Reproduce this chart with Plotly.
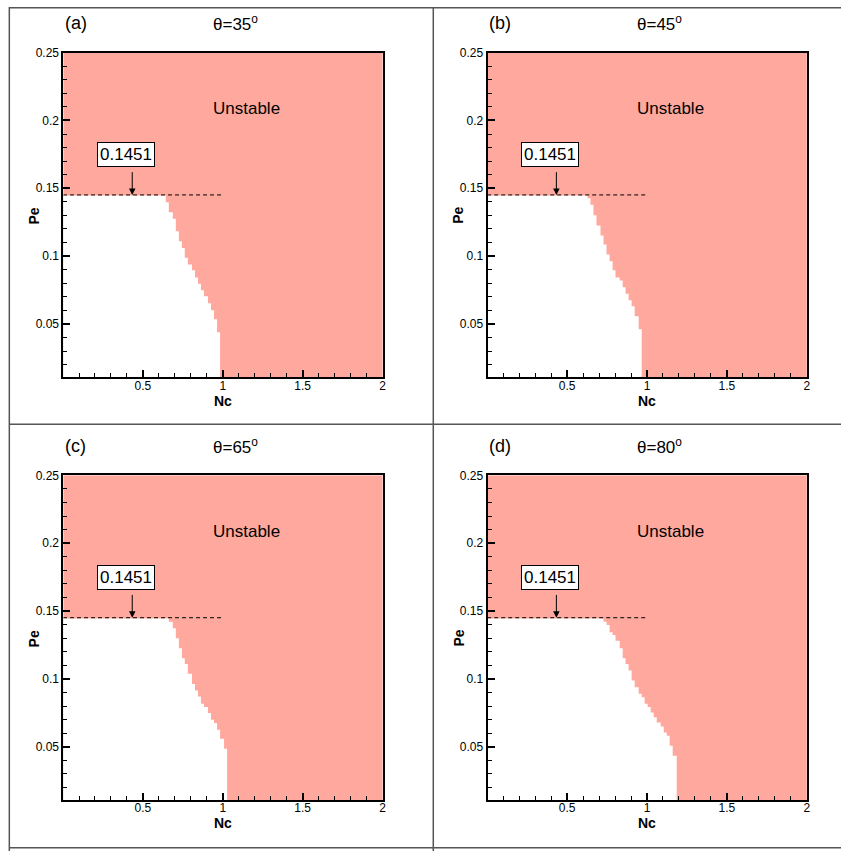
import plotly.graph_objects as go

# ---------------- data ----------------
panel_labels = ["(a)", "(b)", "(c)", "(d)"]
angles = [35, 45, 65, 80]
pe_critical = 0.1451

# Pe edges of the stepped stability boundary (top -> bottom) and Nc of each step
pe_edges_a = [0.1446, 0.1397, 0.1324, 0.1275, 0.1184, 0.1110, 0.1059, 0.0988, 0.0939, 0.0895,
              0.0843, 0.0797, 0.0748, 0.0704, 0.0652, 0.0601, 0.0535, 0.0439, 0.0100]
nc_steps_a = [0.643, 0.662, 0.687, 0.706, 0.725, 0.744, 0.762, 0.781, 0.807, 0.826,
              0.845, 0.863, 0.882, 0.907, 0.926, 0.945, 0.964, 0.983]

pe_edges_b = [0.1446, 0.1427, 0.1378, 0.1302, 0.1226, 0.1152, 0.1086, 0.1012, 0.0963, 0.0895,
              0.0843, 0.0821, 0.0770, 0.0723, 0.0674, 0.0630, 0.0557, 0.0461, 0.0100]
nc_steps_b = [0.628, 0.646, 0.665, 0.684, 0.709, 0.728, 0.747, 0.766, 0.785, 0.803,
              0.829, 0.848, 0.866, 0.885, 0.904, 0.923, 0.948, 0.967]

pe_edges_c = [0.1446, 0.1422, 0.1373, 0.1299, 0.1226, 0.1152, 0.1110, 0.1037, 0.0963, 0.0914,
              0.0870, 0.0816, 0.0792, 0.0748, 0.0699, 0.0674, 0.0625, 0.0559, 0.0485, 0.0100]
nc_steps_c = [0.662, 0.687, 0.706, 0.725, 0.744, 0.762, 0.781, 0.807, 0.826, 0.845,
              0.863, 0.882, 0.907, 0.926, 0.945, 0.964, 0.983, 1.008, 1.027]

pe_edges_d = [0.1446, 0.1422, 0.1397, 0.1343, 0.1324, 0.1282, 0.1226, 0.1152, 0.1110, 0.1061,
              0.0988, 0.0939, 0.0890, 0.0865, 0.0816, 0.0792, 0.0752, 0.0718, 0.0679, 0.0649,
              0.0605, 0.0581, 0.0507, 0.0434, 0.0100]
nc_steps_d = [0.728, 0.747, 0.766, 0.785, 0.803, 0.829, 0.848, 0.866, 0.885, 0.904,
              0.923, 0.948, 0.967, 0.985, 1.004, 1.023, 1.042, 1.061, 1.086, 1.105,
              1.124, 1.142, 1.161, 1.186]

x_tickvals = [0.5, 1, 1.5, 2]
y_tickvals = [0.05, 0.1, 0.15, 0.2, 0.25]

panels = [(pe_edges_a, nc_steps_a), (pe_edges_b, nc_steps_b),
          (pe_edges_c, nc_steps_c), (pe_edges_d, nc_steps_d)]

# ---------------- layout geometry ----------------
W, H = 845, 851
UNSTABLE = "#FFA89D"
FONT = "Liberation Sans, Arial, Helvetica, sans-serif"

# the photographed page appears slightly scaled / shifted; map target pixels -> paper
SC, OFFY = 0.993, 6.0


def PX(x):
    return (x / SC) / W


def PY(y):
    return 1 - ((y - OFFY) / SC) / H


COLDX = 423.2
ROWDY = 423.3

xdoms = [[PX(63.3), PX(381.7)], [PX(63.3 + COLDX), PX(381.7 + COLDX)]]
ydoms = [[PY(376.7), PY(51.7)], [PY(376.7 + ROWDY), PY(51.7 + ROWDY)]]

fig = go.Figure()

for i, (edges, ncs) in enumerate(panels):
    r, c = divmod(i, 2)
    n = i + 1
    xa = "x" if n == 1 else f"x{n}"
    ya = "y" if n == 1 else f"y{n}"
    # stable (white) polygon built from the step data
    px = [0.0]
    py = [edges[0]]
    for k, nc in enumerate(ncs):
        px += [nc, nc]
        py += [edges[k], edges[k + 1]]
    px += [0.0, 0.0]
    py += [edges[-1], edges[0]]
    fig.add_trace(go.Scatter(x=px, y=py, mode="lines", fill="toself",
                             fillcolor="white", line=dict(width=0, color="white"),
                             hoverinfo="skip", showlegend=False, xaxis=xa, yaxis=ya))
    # dashed critical line
    fig.add_trace(go.Scatter(x=[0.0, 1.0], y=[pe_critical, pe_critical], mode="lines",
                             line=dict(color="black", width=1, dash="4px,3px"),
                             hoverinfo="skip", showlegend=False, xaxis=xa, yaxis=ya))

    axkey_x = "xaxis" if n == 1 else f"xaxis{n}"
    axkey_y = "yaxis" if n == 1 else f"yaxis{n}"
    fig.layout[axkey_x] = dict(
        domain=xdoms[c], range=[0.0025, 2], anchor=ya,
        tickmode="array", tickvals=x_tickvals, ticktext=["0.5", "1", "1.5", "2"],
        ticks="inside", ticklen=7, tickwidth=1.5, tickcolor="black",
        ticklabelstandoff=-4,
        minor=dict(tickmode="linear", tick0=0, dtick=0.1, ticks="inside",
                   ticklen=4, tickwidth=1, tickcolor="black"),
        showline=True, linecolor="black", linewidth=2, mirror=True,
        showgrid=False, zeroline=False, fixedrange=True,
        tickfont=dict(family=FONT, size=12, color="black"))
    fig.layout[axkey_y] = dict(
        domain=ydoms[r], range=[0.0107, 0.25], anchor=xa,
        tickmode="array", tickvals=y_tickvals,
        ticktext=["0.05", "0.1", "0.15", "0.2", "0.25"],
        ticks="inside", ticklen=7, tickwidth=1.5, tickcolor="black",
        minor=dict(tickmode="linear", tick0=0, dtick=0.01, ticks="inside",
                   ticklen=4, tickwidth=1, tickcolor="black"),
        showline=True, linecolor="black", linewidth=2, mirror=True,
        showgrid=False, zeroline=False, fixedrange=True,
        tickfont=dict(family=FONT, size=12, color="black"))

    # texts (data coords)
    fig.add_annotation(x=1.15, y=0.209, xref=xa, yref=ya, text="Unstable",
                       showarrow=False, font=dict(family=FONT, size=17, color="black"))
    fig.add_annotation(x=0.394, y=0.1748, xref=xa, yref=ya, text="0.1451",
                       showarrow=False, bgcolor="white", bordercolor="black",
                       borderwidth=1, borderpad=2,
                       font=dict(family=FONT, size=17, color="black"))
    fig.add_annotation(x=0.433, y=pe_critical, xref=xa, yref=ya,
                       ax=0.433, ay=0.163, axref=xa, ayref=ya, text="",
                       showarrow=True, arrowhead=2, arrowsize=1.3, arrowwidth=1,
                       arrowcolor="black")

    # paper-coord texts (target pixel positions)
    dx, dy = c * COLDX, r * ROWDY
    fig.add_annotation(x=PX(75.5 + dx), y=PY(22.5 + dy),
                       xref="paper", yref="paper", text=panel_labels[i],
                       showarrow=False, xanchor="center", yanchor="middle",
                       font=dict(family=FONT, size=18, color="black"))
    fig.add_annotation(x=PX(235.0 + dx), y=PY(22.5 + dy),
                       xref="paper", yref="paper",
                       text=f"\u03b8=%d<sup>o</sup>" % angles[i],
                       showarrow=False, xanchor="center", yanchor="middle",
                       font=dict(family=FONT, size=17, color="black"))
    fig.add_annotation(x=PX(222.5 + dx), y=PY(400.0 + dy),
                       xref="paper", yref="paper", text="<b>Nc</b>",
                       showarrow=False, xanchor="center", yanchor="middle",
                       font=dict(family=FONT, size=14, color="black"))
    fig.add_annotation(x=PX(33.8 + dx), y=PY(215.0 + dy),
                       xref="paper", yref="paper", text="<b>Pe</b>", textangle=-90,
                       showarrow=False, xanchor="center", yanchor="middle",
                       font=dict(family=FONT, size=14, color="black"))

# panel frame lines
frame = dict(color="#555555", width=1.5)
shapes = [
    dict(type="line", xref="paper", yref="paper", x0=PX(9.3), x1=PX(9.3), y0=0, y1=1, line=frame),
    dict(type="line", xref="paper", yref="paper", x0=PX(432.3), x1=PX(432.3), y0=0, y1=1, line=frame),
    dict(type="line", xref="paper", yref="paper", x0=PX(9.3), x1=1, y0=0.999, y1=0.999, line=frame),
    dict(type="line", xref="paper", yref="paper", x0=PX(9.3), x1=1, y0=PY(423.7), y1=PY(423.7), line=frame),
    dict(type="line", xref="paper", yref="paper", x0=PX(9.3), x1=1, y0=PY(847.7), y1=PY(847.7), line=frame),
]

fig.update_layout(
    width=W, height=H, margin=dict(l=0, r=0, t=0, b=0),
    paper_bgcolor="white", plot_bgcolor=UNSTABLE, showlegend=False,
    shapes=shapes, font=dict(family=FONT, color="black"),
)

post = ("document.documentElement.style.margin='0px';"
        "document.body.style.margin='0px';"
        "document.documentElement.style.overflow='hidden';"
        "document.body.style.overflow='hidden';"
        "var gd=document.getElementById('{plot_id}');"
        "gd.style.position='absolute';gd.style.top='0px';gd.style.left='0px';")

fig.write_html("out.html", config={"displayModeBar": False}, post_script=post)
